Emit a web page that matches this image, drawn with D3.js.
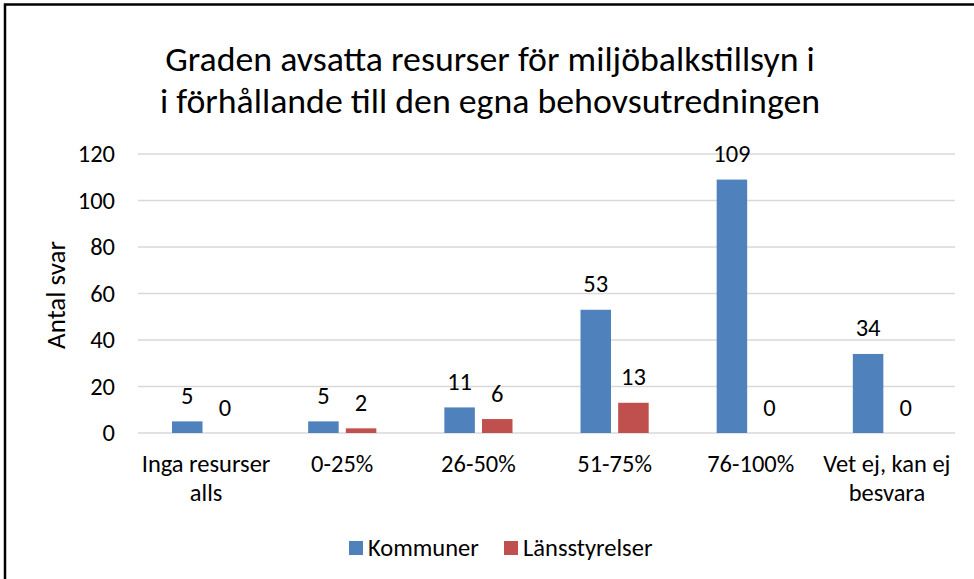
<!DOCTYPE html>
<html lang="sv">
<head>
<meta charset="utf-8">
<title>Graden avsatta resurser</title>
<style>
  body { margin: 0; background: #fff; }
  text { font-family: Carlito, Calibri, Lato, sans-serif; fill: #000; }
</style>
</head>
<body>
<script src="https://cdn.jsdelivr.net/npm/d3@7"></script>
<script>
var categories = [["Inga resurser", "alls"], ["0-25%"], ["26-50%"], ["51-75%"], ["76-100%"], ["Vet ej, kan ej", "besvara"]];
var seriesNames = ["Kommuner", "Länsstyrelser"];
var kommuner = [5, 5, 11, 53, 109, 34];
var lansstyrelser = [0, 2, 6, 13, 0, 0];
var yTicks = [0, 20, 40, 60, 80, 100, 120];
var titleLines = ["Graden avsatta resurser för miljöbalkstillsyn i", "i förhållande till den egna behovsutredningen"];
var colors = ["#4F81BD", "#C0504D"];

var width = 974, height = 579;
var plot = {left: 138, right: 955, top: 154, bottom: 433};
var fs = 24.5;

var svg = d3.select("body").append("svg")
    .attr("width", width)
    .attr("height", height);

// frame (only left and top edges are visible)
svg.append("path")
    .attr("d", "M5,579 V4.5 H974")
    .attr("fill", "none")
    .attr("stroke", "#000")
    .attr("stroke-width", 2.5);

var catKeys = categories.map(function(c){ return c.join(" "); });

var x = d3.scaleBand()
    .domain(catKeys)
    .range([plot.left, plot.right])
    .padding(0);

var xs = d3.scaleBand()
    .domain(seriesNames)
    .range([34, x.bandwidth() - 34])
    .paddingInner(0.19)
    .paddingOuter(0);

var y = d3.scaleLinear()
    .domain([0, 120])
    .range([plot.bottom, plot.top]);

// grid
svg.append("g").selectAll("line")
    .data(yTicks)
    .enter().append("line")
    .attr("x1", plot.left)
    .attr("x2", plot.right)
    .attr("y1", function(d){ return y(d); })
    .attr("y2", function(d){ return y(d); })
    .attr("stroke", "#D9D9D9")
    .attr("stroke-width", 1.5);

// y axis labels
var yAxis = d3.axisLeft(y).tickValues(yTicks).tickSize(0).tickPadding(23);
svg.append("g")
    .attr("transform", "translate(" + plot.left + ",0)")
    .call(yAxis)
    .call(function(g){ g.select(".domain").remove(); })
    .selectAll("text")
    .attr("font-family", "Carlito, Calibri, Lato, sans-serif")
    .attr("font-size", fs)
    .attr("fill", "#000");

svg.append("text")
    .attr("transform", "translate(65,295) rotate(-90)")
    .attr("text-anchor", "middle")
    .attr("font-size", 27)
    .text("Antal svar");

// bars
var rows = catKeys.map(function(k, i){
    return {key: k, values: [kommuner[i], lansstyrelser[i]]};
});

var groups = svg.append("g").selectAll("g")
    .data(rows)
    .enter().append("g")
    .attr("transform", function(d){ return "translate(" + x(d.key) + ",0)"; });

groups.selectAll("rect")
    .data(function(d){ return d.values.map(function(v, j){ return {name: seriesNames[j], value: v, j: j}; }); })
    .enter().append("rect")
    .attr("x", function(d){ return xs(d.name); })
    .attr("width", xs.bandwidth())
    .attr("y", function(d){ return y(d.value); })
    .attr("height", function(d){ return y(0) - y(d.value); })
    .attr("fill", function(d){ return colors[d.j]; });

groups.selectAll("text.val")
    .data(function(d){ return d.values.map(function(v, j){ return {name: seriesNames[j], value: v}; }); })
    .enter().append("text")
    .attr("class", "val")
    .attr("x", function(d){ return xs(d.name) + xs.bandwidth() / 2; })
    .attr("y", function(d){ return y(d.value) - 17.5; })
    .attr("text-anchor", "middle")
    .attr("font-size", fs)
    .text(function(d){ return d.value; });

// category labels
var xl = svg.append("g").selectAll("text")
    .data(categories)
    .enter().append("text")
    .attr("text-anchor", "middle")
    .attr("font-size", fs)
    .attr("x", function(d, i){ return x(catKeys[i]) + x.bandwidth() / 2; })
    .attr("y", 472);
xl.selectAll("tspan")
    .data(function(d){ return d; })
    .enter().append("tspan")
    .attr("x", function(){ return d3.select(this.parentNode).attr("x"); })
    .attr("dy", function(d, i){ return i === 0 ? 0 : 29; })
    .text(function(d){ return d; });

// title
svg.append("g").selectAll("text")
    .data(titleLines)
    .enter().append("text")
    .attr("x", 490)
    .attr("y", function(d, i){ return 71 + i * 42; })
    .attr("text-anchor", "middle")
    .attr("font-size", 35.8)
    .text(function(d){ return d; });

// legend
var legend = svg.append("g").selectAll("g")
    .data(seriesNames)
    .enter().append("g")
    .attr("transform", function(d, i){ return "translate(" + (i === 0 ? 349 : 504) + ",541)"; });
legend.append("rect")
    .attr("width", 14)
    .attr("height", 14)
    .attr("fill", function(d, i){ return colors[i]; });
legend.append("text")
    .attr("x", 19)
    .attr("y", 15)
    .attr("font-size", fs)
    .text(function(d){ return d; });
</script>
</body>
</html>
